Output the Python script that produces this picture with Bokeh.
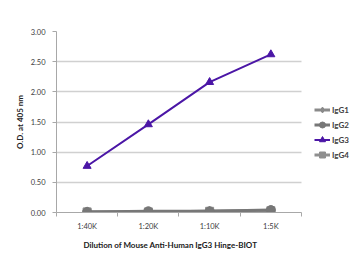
from bokeh.plotting import figure
from bokeh.models import FixedTicker, Legend, LegendItem, Range1d, ColumnDataSource, Title
from bokeh.embed import file_html
from bokeh.resources import INLINE

dilutions = ["1:40K", "1:20K", "1:10K", "1:5K"]
x_pos = [0.5, 1.5, 2.5, 3.5]
igg1 = [0.01, 0.01, 0.02, 0.03]
igg2 = [0.01, 0.02, 0.02, 0.04]
igg3 = [0.77, 1.46, 2.16, 2.62]
igg4 = [0.01, 0.01, 0.02, 0.03]
y_ticks = [0.0, 0.5, 1.0, 1.5, 2.0, 2.5, 3.0]
x_title = "Dilution of Mouse Anti-Human IgG3 Hinge-BIOT"
y_title = "O.D. at 405 nm"

FONT = "Lato"

# frame spans 56..352 px; categories occupy 0..4 (245 px), legend sits in the rest
p = figure(width=352, height=267, output_backend="svg", toolbar_location=None,
           x_range=Range1d(0, 4.833), y_range=Range1d(0, 3.0),
           min_border_left=56, min_border_right=0, min_border_top=31, min_border_bottom=55)
p.outline_line_color = None
p.xgrid.grid_line_color = None
p.ygrid.grid_line_color = "#d0d0d0"
p.ygrid.grid_line_width = 1.5
p.ygrid.cross_bounds = (0, 4)

p.xaxis.ticker = FixedTicker(ticks=x_pos, minor_ticks=[0, 1, 2, 3, 4])
p.xaxis.bounds = (0, 4)
p.xaxis.major_label_overrides = {x: d for x, d in zip(x_pos, dilutions)}
p.xaxis.major_tick_out = 0
p.xaxis.major_tick_in = 0
p.xaxis.minor_tick_out = 4
p.xaxis.minor_tick_in = 0
p.xaxis.axis_line_color = "#a8a8a8"
p.xaxis.minor_tick_line_color = "#a8a8a8"

p.yaxis.ticker = FixedTicker(ticks=y_ticks, minor_ticks=[])
p.yaxis.major_label_overrides = {v: f"{v:.2f}" for v in y_ticks}
p.yaxis.major_tick_out = 4
p.yaxis.major_tick_in = 0
p.yaxis.axis_line_color = "#a8a8a8"
p.yaxis.major_tick_line_color = "#a8a8a8"
p.yaxis.axis_label = y_title

for ax in (p.xaxis, p.yaxis):
    ax.major_label_text_font = FONT
    ax.major_label_text_font_size = "7.5px"
    ax.major_label_text_color = "#404040"
    ax.axis_label_text_font = FONT
    ax.axis_label_text_font_size = "8px"
    ax.axis_label_text_font_style = "bold"
    ax.axis_label_text_color = "#202020"
p.xaxis.major_label_standoff = 5
p.yaxis.major_label_standoff = 7
p.yaxis.axis_label_standoff = 3

xt = Title(text=x_title, align="left", offset=27, standoff=8,
           text_font=FONT, text_font_size="8px", text_font_style="bold",
           text_color="#202020")
p.add_layout(xt, "below")

src = ColumnDataSource(dict(x=x_pos, igg1=igg1, igg2=igg2, igg3=igg3, igg4=igg4))

l1 = p.line("x", "igg1", source=src, line_color="#8a8a8a", line_width=3)
m1 = p.scatter("x", "igg1", source=src, marker="diamond", size=10, color="#8a8a8a")
l4 = p.line("x", "igg4", source=src, line_color="#8f8f8f", line_width=3)
m4 = p.scatter("x", "igg4", source=src, marker="square", size=8, color="#8f8f8f")
l2 = p.line("x", "igg2", source=src, line_color="#777777", line_width=3)
m2 = p.scatter("x", "igg2", source=src, marker="circle", size=9, color="#777777")
l3 = p.line("x", "igg3", source=src, line_color="#4b16a6", line_width=2)
m3 = p.scatter("x", "igg3", source=src, marker="triangle", size=8, color="#4b16a6")

legend = Legend(items=[
    LegendItem(label="IgG1", renderers=[l1, m1]),
    LegendItem(label="IgG2", renderers=[l2, m2]),
    LegendItem(label="IgG3", renderers=[l3, m3]),
    LegendItem(label="IgG4", renderers=[l4, m4]),
], location=(258, 50))
legend.border_line_color = None
legend.background_fill_alpha = 0
legend.padding = 0
legend.margin = 0
legend.spacing = 0
legend.label_height = 15
legend.glyph_height = 15
legend.glyph_width = 16
legend.label_standoff = 2
legend.label_text_font = FONT
legend.label_text_font_size = "8px"
legend.label_text_font_style = "bold"
legend.label_text_color = "#404040"
p.add_layout(legend, "center")

open("out.html", "w").write(file_html(p, INLINE))
